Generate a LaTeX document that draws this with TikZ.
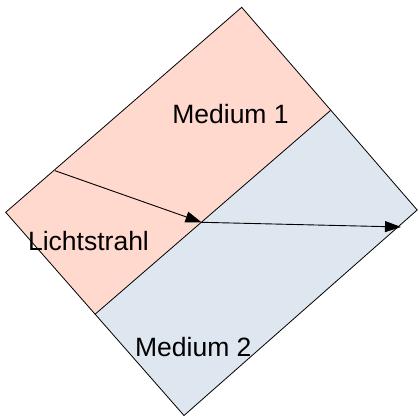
\documentclass[tikz,border=0pt]{standalone}
\usepackage{fontspec}
\setmainfont{Liberation Sans}
\usetikzlibrary{arrows.meta}
\definecolor{pinkfill}{HTML}{FFD8CE}
\definecolor{bluefill}{HTML}{DEE6EF}
\tikzset{
  edge/.style={draw=black, line width=0.8pt, line join=miter},
  ray/.style={draw=black, line width=0.9pt, -{Triangle[length=16pt,width=11pt]}},
  lbl/.style={anchor=base, inner sep=0pt, font=\fontsize{26.5}{31}\selectfont}
}
\begin{document}
\begin{tikzpicture}[x=1pt,y=-1pt]
\useasboundingbox (0,0) rectangle (418,417);
\coordinate (T) at (241.7,7.3);
\coordinate (R) at (417.2,210);
\coordinate (B) at (184,415.5);
\coordinate (L) at (5.7,212.3);
\coordinate (M1) at (330.5,110.5);
\coordinate (M2) at (95,314.3);
\coordinate (P) at (55,170.7);
\coordinate (Q) at (201.5,222.3);
\coordinate (E) at (401,227);
\fill[pinkfill] (T) -- (M1) -- (M2) -- (L) -- cycle;
\fill[bluefill] (M1) -- (R) -- (B) -- (M2) -- cycle;
\draw[edge] (T) -- (R) -- (B) -- (L) -- cycle;
\draw[edge] (M1) -- (M2);
\draw[ray] (P) -- (Q);
\draw[ray] (Q) -- (E);
\node[lbl] (m1) at (230.5,123.5) {Medium 1};
\node[lbl] (ls) at (88.5,250) {Lichtstrahl};
\node[lbl] (m2) at (193.3,356.7) {Medium 2};
\end{tikzpicture}
\end{document}
